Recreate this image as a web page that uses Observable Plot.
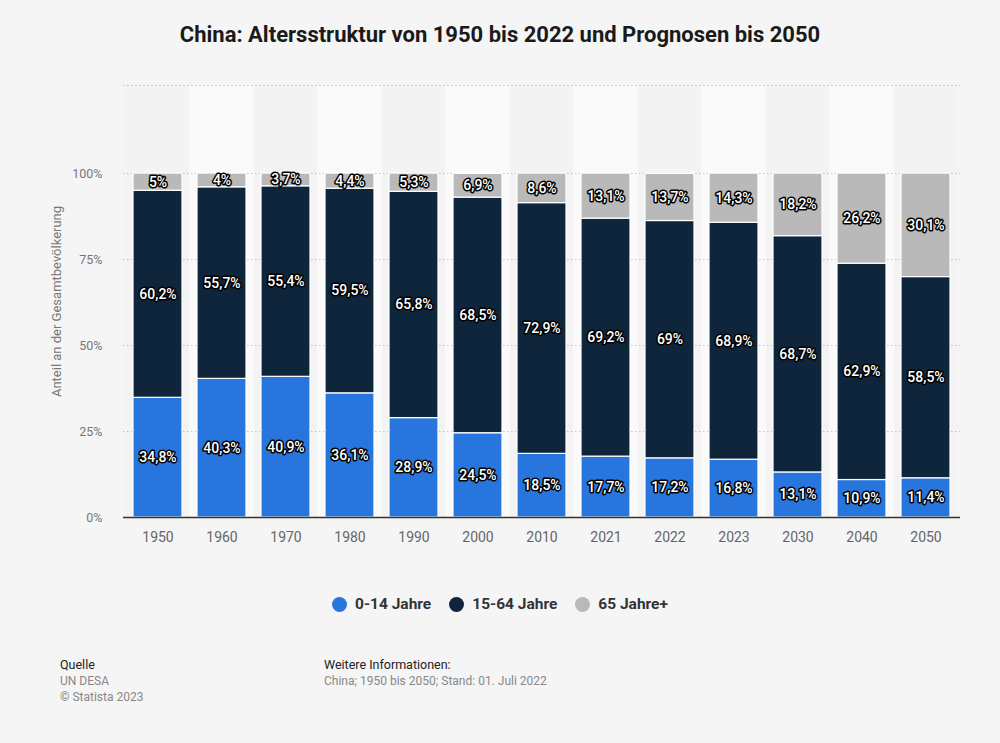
<!DOCTYPE html>
<html>
<head>
<meta charset="utf-8">
<script src="https://cdn.jsdelivr.net/npm/d3@7"></script>
<script src="https://cdn.jsdelivr.net/npm/@observablehq/plot@0.6"></script>
<style>
  body { margin: 0; background: #f5f5f5; }
  #wrap { position: relative; width: 1000px; height: 743px; font-family: Roboto, "Liberation Sans", sans-serif; background: #f5f5f5; overflow: hidden; }
  #title { position: absolute; top: 22px; left: 0; width: 1000px; text-align: center; font-size: 22px; font-weight: bold; color: #1a1a1a; }
  #chart { position: absolute; top: 70px; left: 0; }
  #legend { position: absolute; top: 595px; left: 0; width: 1000px; display: flex; justify-content: center; gap: 18px; font-size: 15.5px; font-weight: bold; color: #333; }
  #legend .it { display: flex; align-items: center; gap: 8px; }
  #legend .dot { width: 15px; height: 15px; border-radius: 50%; display: inline-block; }
  .foot { position: absolute; font-size: 12.5px; line-height: 16px; }
  .foot .h { color: #222; }
  .foot .g { color: #888; font-size: 12px; }
</style>
</head>
<body>
<div id="wrap">
  <div id="title">China: Altersstruktur von 1950 bis 2022 und Prognosen bis 2050</div>
  <div id="chart"></div>
  <div id="legend"></div>
  <div class="foot" style="left:60px; top:657px;">
    <div class="h">Quelle</div>
    <div class="g">UN DESA</div>
    <div class="g">© Statista 2023</div>
  </div>
  <div class="foot" style="left:324px; top:657px;">
    <div class="h">Weitere Informationen:</div>
    <div class="g">China; 1950 bis 2050; Stand: 01. Juli 2022</div>
  </div>
</div>
<script>
const years = ["1950","1960","1970","1980","1990","2000","2010","2021","2022","2023","2030","2040","2050"];
const groups = ["0-14 Jahre", "15-64 Jahre", "65 Jahre+"];
const colors = ["#2876dd", "#0f253b", "#b9b9b9"];
const young = [34.8, 40.3, 40.9, 36.1, 28.9, 24.5, 18.5, 17.7, 17.2, 16.8, 13.1, 10.9, 11.4];
const middle = [60.2, 55.7, 55.4, 59.5, 65.8, 68.5, 72.9, 69.2, 69, 68.9, 68.7, 62.9, 58.5];
const old = [5, 4, 3.7, 4.4, 5.3, 6.9, 8.6, 13.1, 13.7, 14.3, 18.2, 26.2, 30.1];
const yTicks = [0, 25, 50, 75, 100];
const yTop = 125.6;

const series = [young, middle, old];
const data = [];
years.forEach((y, i) => {
  groups.forEach((g, j) => data.push({year: y, group: g, value: series[j][i]}));
});
const fmt = v => String(v).replace(".", ",") + "%";

const step = 837 / years.length;
const half = step * 0.24 / 2;

const chart = Plot.plot({
  width: 1000,
  height: 500,
  marginLeft: 123,
  marginRight: 40,
  marginTop: 15,
  marginBottom: 53,
  style: {background: "transparent", fontFamily: "Roboto, 'Liberation Sans', sans-serif", overflow: "visible"},
  x: {domain: years, paddingInner: 0.24, paddingOuter: 0.12, axis: null},
  y: {domain: [0, yTop], axis: null},
  color: {domain: groups, range: colors},
  marks: [
    Plot.barY(years.filter((d, i) => i % 2 === 0), {x: d => d, y1: 0, y2: yTop, fill: "#f3f3f3", insetLeft: -half, insetRight: -half}),
    Plot.barY(years.filter((d, i) => i % 2 === 1), {x: d => d, y1: 0, y2: yTop, fill: "#fafafa", insetLeft: -half, insetRight: -half}),
    Plot.ruleY([...yTicks.slice(1), yTop], {stroke: "#c4c4c4", strokeDasharray: "1.5,2.5", strokeWidth: 1}),
    Plot.barY(data, {x: "year", y: "value", z: "group", fill: "group", stroke: "white", strokeWidth: 1.2}),
    Plot.ruleY([0], {stroke: "#333", strokeWidth: 1.5}),
    Plot.text(data, Plot.stackY({x: "year", y: "value", z: "group", text: d => fmt(d.value), fill: "white", stroke: "black", strokeWidth: 3, fontSize: 14, fontWeight: 500, paintOrder: "stroke"})),
    Plot.axisX({tickSize: 0, tickPadding: 15, fontSize: 14, color: "#666", label: null}),
    Plot.axisY({ticks: yTicks, tickFormat: d => d + "%", tickSize: 0, tickPadding: 21, fontSize: 12.5, color: "#777", label: "Anteil an der Gesamtbevölkerung", labelAnchor: "center", labelOffset: 72, labelArrow: "none"})
  ]
});
chart.querySelectorAll("g[aria-label='y-axis label'] text").forEach(t => t.setAttribute("font-size", "13"));
document.getElementById("chart").appendChild(chart);

const legend = document.getElementById("legend");
groups.forEach((g, j) => {
  const it = document.createElement("div");
  it.className = "it";
  const dot = document.createElement("span");
  dot.className = "dot";
  dot.style.background = colors[j];
  const t = document.createElement("span");
  t.textContent = g;
  it.appendChild(dot);
  it.appendChild(t);
  legend.appendChild(it);
});
</script>
</body>
</html>
